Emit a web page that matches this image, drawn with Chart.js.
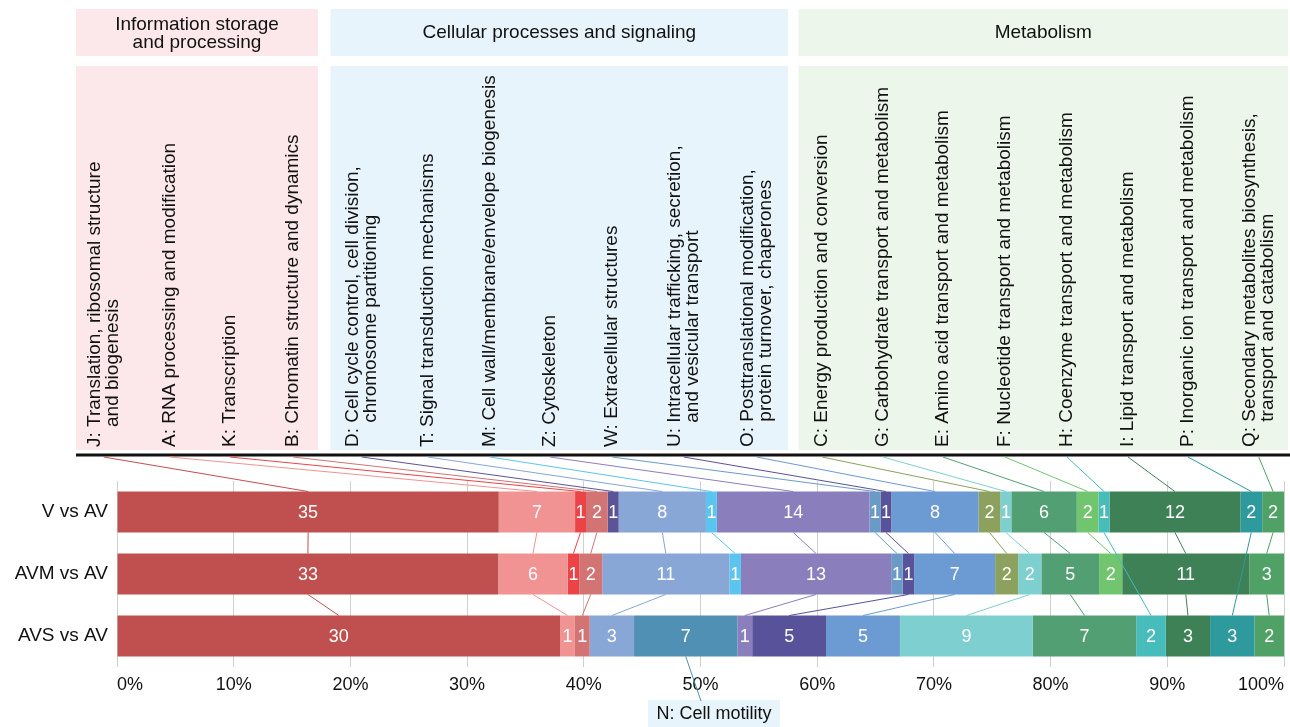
<!DOCTYPE html>
<html>
<head>
<meta charset="utf-8">
<script src="https://cdn.jsdelivr.net/npm/chart.js@4.4.1/dist/chart.umd.min.js"></script>
<style>
  html, body { margin: 0; padding: 0; background: #fff; }
  #wrap { position: relative; width: 1290px; height: 727px; }
</style>
</head>
<body>
<div id="wrap"><canvas id="cog"></canvas></div>
<script>
// ---- data -------------------------------------------------------------
const comparisons = ['V vs AV', 'AVM vs AV', 'AVS vs AV'];

// COG categories in stacking order
const cogCodes = ['J', 'A', 'K', 'B', 'D', 'T', 'M', 'N', 'Z', 'W', 'U', 'O', 'C', 'G', 'E', 'F', 'H', 'I', 'P', 'Q'];

// descriptions; "\n" marks the wrapped second line
const cogNames = [
  'Translation, ribosomal structure\nand biogenesis',
  'RNA processing and modification',
  'Transcription',
  'Chromatin structure and dynamics',
  'Cell cycle control, cell division,\nchromosome partitioning',
  'Signal transduction mechanisms',
  'Cell wall/membrane/envelope biogenesis',
  'Cell motility',
  'Cytoskeleton',
  'Extracellular structures',
  'Intracellular trafficking, secretion,\nand vesicular transport',
  'Posttranslational modification,\nprotein turnover, chaperones',
  'Energy production and conversion',
  'Carbohydrate transport and metabolism',
  'Amino acid transport and metabolism',
  'Nucleotide transport and metabolism',
  'Coenzyme transport and metabolism',
  'Lipid transport and metabolism',
  'Inorganic ion transport and metabolism',
  'Secondary metabolites biosynthesis,\ntransport and catabolism'
];

// gene counts per category (same order as cogCodes)
const countsV   = [35, 7, 1, 2, 1, 8, 1, 0, 14, 1, 1, 8, 2, 1, 6, 2, 1, 12, 2, 2];
const countsAVM = [33, 6, 1, 2, 0, 11, 1, 0, 13, 1, 1, 7, 2, 2, 5, 2, 0, 11, 0, 3];
const countsAVS = [30, 1, 0, 1, 0, 3, 0, 7, 1, 0, 5, 5, 0, 9, 7, 0, 2, 3, 3, 2];

// functional groups and the categories they hold
const groupNames = ['Information storage\nand processing', 'Cellular processes and signaling', 'Metabolism'];
const groupCodes = [
  ['J', 'A', 'K', 'B'],
  ['D', 'T', 'M', 'N', 'Z', 'W', 'U', 'O'],
  ['C', 'G', 'E', 'F', 'H', 'I', 'P', 'Q']
];

// ---- styles / layout --------------------------------------------------
const cogColors = [
  '#c0504f', '#f19393', '#ec4346', '#d27474', '#5b5497', '#88a6d6', '#5ac5ee', '#5090b4',
  '#8a7ebc', '#6a9bc6', '#57529a', '#6c9ad2', '#8ca15e', '#7ed0d0', '#539f74', '#71c56e',
  '#46bcbb', '#3f8157', '#2e9a9d', '#4fa166'
];
const groupFills = ['#fce8ea', '#e8f4fb', '#ecf6ea'];
const groupSpans = [[76, 318], [330.5, 788], [798.5, 1288]];
// x of the first text line of each rotated header label (N sits below the axis)
const headerLabelX = {
  J: 95, A: 170, K: 230, B: 293, D: 353, T: 428, M: 490, Z: 550, W: 612, U: 675, O: 748,
  C: 822, G: 883, E: 943, F: 1005, H: 1067, I: 1128, P: 1188, Q: 1250
};
const FONT_FAMILY = '"Liberation Sans", Arial, Helvetica, sans-serif';
const FONT = '18px ' + FONT_FAMILY;
const HEAD_FONT = '19px ' + FONT_FAMILY;
const TEXT = '#111';
const LINE_GAP = 17.5;
const HEADER_BASE_Y = 447;
const RULE_Y = 453.5;
const motilityBox = { x: 648, y: 700, w: 132, h: 27 };

// ---- derived series ---------------------------------------------------
const rows = [countsV, countsAVM, countsAVS];
const totals = rows.map(r => r.reduce((a, b) => a + b, 0));
const datasets = cogCodes.map((code, i) => ({
  label: code + ': ' + cogNames[i].replace('\n', ' '),
  data: rows.map((r, j) => r[i] / totals[j] * 100),
  counts: rows.map(r => r[i]),
  backgroundColor: cogColors[i],
  borderWidth: 0,
  categoryPercentage: 1,
  barPercentage: 0.66
}));

function barGeom(chart, di, ri) {
  const el = chart.getDatasetMeta(di).data[ri];
  const p = el.getProps(['x', 'y', 'base', 'height'], true);
  return { cx: (p.x + p.base) / 2, top: p.y - p.height / 2, bottom: p.y + p.height / 2, cy: p.y };
}

const cogOverlay = {
  id: 'cogOverlay',
  beforeDraw(chart) {
    const ctx = chart.ctx;
    ctx.save();
    ctx.fillStyle = '#fff';
    ctx.fillRect(0, 0, chart.width, chart.height);

    // group panels and titles
    groupSpans.forEach((s, gi) => {
      ctx.fillStyle = groupFills[gi];
      ctx.fillRect(s[0], 9, s[1] - s[0], 47);
      ctx.fillRect(s[0], 66, s[1] - s[0], 384);
      ctx.fillStyle = TEXT;
      ctx.font = HEAD_FONT;
      ctx.textAlign = 'center';
      ctx.textBaseline = 'middle';
      const lines = groupNames[gi].split('\n');
      const cx = (s[0] + s[1]) / 2;
      if (lines.length === 1) {
        ctx.fillText(lines[0], cx, 33);
      } else {
        lines.forEach((ln, k) => ctx.fillText(ln, cx, 25 + k * LINE_GAP));
      }
    });

    // rotated category labels
    ctx.font = HEAD_FONT;
    ctx.fillStyle = TEXT;
    cogCodes.forEach((code, i) => {
      const x = headerLabelX[code];
      if (x === undefined) return;
      const lines = cogNames[i].split('\n');
      const prefix = code + ': ';
      ctx.save();
      ctx.translate(x, HEADER_BASE_Y);
      ctx.rotate(-Math.PI / 2);
      ctx.textAlign = 'left';
      ctx.textBaseline = 'middle';
      ctx.fillText(prefix + lines[0], 0, 0);
      if (lines[1]) ctx.fillText(lines[1], ctx.measureText(prefix).width, LINE_GAP);
      ctx.restore();
    });

    // heavy rule under the header
    ctx.fillStyle = '#111';
    ctx.fillRect(76, RULE_Y, 1214, 3);

    // label for the category that only appears below the axis
    const ni = cogCodes.indexOf('N');
    ctx.fillStyle = groupFills[1];
    ctx.fillRect(motilityBox.x, motilityBox.y, motilityBox.w, motilityBox.h);
    ctx.fillStyle = TEXT;
    ctx.font = FONT;
    ctx.textAlign = 'center';
    ctx.textBaseline = 'middle';
    ctx.fillText('N: ' + cogNames[ni], motilityBox.x + motilityBox.w / 2, motilityBox.y + 14);
    ctx.restore();
  },
  afterDatasetsDraw(chart) {
    const ctx = chart.ctx;
    ctx.save();
    ctx.font = FONT;
    ctx.fillStyle = '#fff';
    ctx.textAlign = 'center';
    ctx.textBaseline = 'middle';
    chart.data.datasets.forEach((ds, di) => {
      ds.counts.forEach((c, ri) => {
        if (!c) return;
        const g = barGeom(chart, di, ri);
        ctx.fillText(String(c), g.cx, g.cy + 1);
      });
    });
    ctx.restore();
  },
  afterDraw(chart) {
    const ctx = chart.ctx;
    ctx.save();
    ctx.lineWidth = 1;
    chart.data.datasets.forEach((ds, di) => {
      const code = cogCodes[di];
      const present = ds.counts.map((c, ri) => c > 0 ? ri : -1).filter(ri => ri >= 0);
      if (!present.length) return;
      const geoms = present.map(ri => barGeom(chart, di, ri));
      ctx.strokeStyle = cogColors[di];
      ctx.beginPath();
      const lx = headerLabelX[code];
      if (lx !== undefined) {
        const twoLines = cogNames[di].includes('\n');
        ctx.moveTo(lx + (twoLines ? LINE_GAP / 2 : 0), RULE_Y + 3.5);
        ctx.lineTo(geoms[0].cx, geoms[0].top);
      }
      for (let k = 1; k < geoms.length; k++) {
        ctx.moveTo(geoms[k - 1].cx, geoms[k - 1].bottom);
        ctx.lineTo(geoms[k].cx, geoms[k].top);
      }
      if (lx === undefined) {
        const last = geoms[geoms.length - 1];
        ctx.moveTo(last.cx, last.bottom);
        ctx.lineTo(motilityBox.x + 53, motilityBox.y + 1);
      }
      ctx.stroke();
    });
    ctx.restore();
  }
};

Chart.defaults.font.family = FONT_FAMILY;
Chart.defaults.font.size = 18;
Chart.defaults.color = TEXT;

new Chart(document.getElementById('cog'), {
  type: 'bar',
  data: { labels: comparisons, datasets },
  options: {
    indexAxis: 'y',
    responsive: true,
    maintainAspectRatio: false,
    animation: false,
    devicePixelRatio: 1,
    layout: { padding: { top: 481, right: 6, bottom: 0, left: 0 } },
    plugins: { legend: { display: false }, tooltip: { enabled: false } },
    scales: {
      x: {
        stacked: true,
        min: 0,
        max: 100,
        z: 1,
        grid: { color: 'rgba(150,150,150,0.45)', lineWidth: 1, drawTicks: false },
        border: { display: false },
        ticks: {
          stepSize: 10,
          padding: 7,
          align: 'inner',
          maxRotation: 0,
          autoSkip: false,
          color: '#111',
          callback: v => v + '%'
        },
        afterFit(s) { s.height = 60; s.paddingLeft = 0; s.paddingRight = 0; }
      },
      y: {
        stacked: true,
        grid: { display: false, drawTicks: false },
        border: { display: false },
        ticks: { padding: 9, color: '#111', font: { size: 19 } },
        afterFit(s) { s.width = 117; }
      }
    }
  },
  plugins: [cogOverlay]
});
</script>
</body>
</html>
